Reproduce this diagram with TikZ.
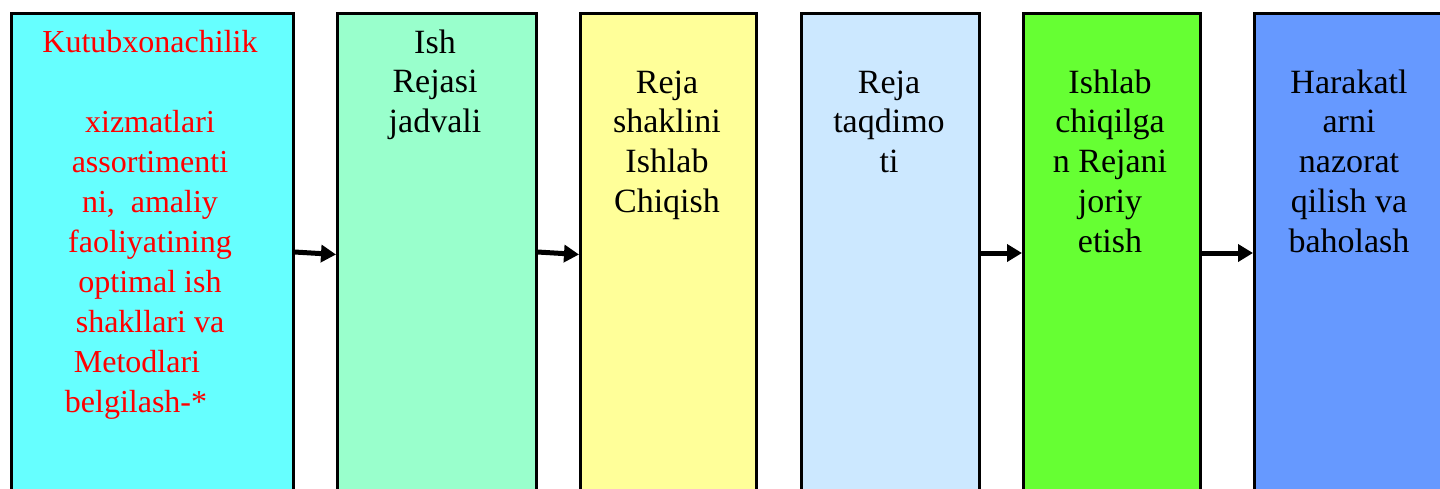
\documentclass[tikz,border=0pt]{standalone}
\usepackage{fontspec}
\setmainfont{Liberation Serif}
\usetikzlibrary{arrows.meta}
\definecolor{cA}{HTML}{66FFFF}
\definecolor{cB}{HTML}{99FFCC}
\definecolor{cC}{HTML}{FFFF99}
\definecolor{cD}{HTML}{CCE8FF}
\definecolor{cE}{HTML}{66FF33}
\definecolor{cF}{HTML}{6699FF}
\definecolor{redtxt}{HTML}{FF0000}
\tikzset{
  stepbox/.style={draw=black, line width=2.5pt, anchor=north west, inner sep=0pt, minimum height=520pt},
  txtA/.style={anchor=base, align=center, inner sep=0pt, text=redtxt, font=\fontsize{32}{40}\selectfont},
  txt/.style={anchor=base, align=center, inner sep=0pt, text=black, font=\fontsize{34}{39.8}\selectfont},
  arr/.style={line width=5pt, -{Triangle[length=15pt,width=17pt]}}
}
\begin{document}
\begin{tikzpicture}[x=1pt,y=-1pt]
\useasboundingbox (0,0) rectangle (1440,488);
\clip (0,0) rectangle (1440,488);
\node[stepbox, fill=cA, minimum width=282pt] (b1) at (10,12) {};
\node[stepbox, fill=cB, minimum width=199pt] (b2) at (336,12) {};
\node[stepbox, fill=cC, minimum width=176pt] (b3) at (579,12) {};
\node[stepbox, fill=cD, minimum width=178pt] (b4) at (800,12) {};
\node[stepbox, fill=cE, minimum width=177pt] (b5) at (1022,12) {};
\node[stepbox, fill=cF, minimum width=200pt] (b6) at (1253,12) {};

% anchor=base is the baseline of the last line
\node[txtA] (t1) at (150,412.5) {Kutubxonachilik\\ \\ xizmatlari\\ assortimenti\\ ni,\ \ amaliy\\ faoliyatining\\ optimal ish\\ shakllari va\\ \hbox{Metodlari\kern26pt}\\ \hbox{belgilash-*\kern28pt}};
\node[txt] (t2) at (435,132.6) {Ish\\ Rejasi\\ jadvali};
\node[txt] (t3) at (667,212.4) {Reja\\ shaklini\\ Ishlab\\ Chiqish};
\node[txt] (t4) at (889,172.6) {Reja\\ taqdimo\\ ti};
\node[txt] (t5) at (1110,252.2) {Ishlab\\ chiqilga\\ n Rejani\\ joriy\\ etish};
\node[txt] (t6) at (1349,252.2) {Harakatl\\ arni\\ nazorat\\ qilish va\\ baholash};

\draw[arr] ([yshift=-240pt]b1.north east) -- ([yshift=-242.5pt]b2.north west);
\draw[arr] ([yshift=-240pt]b2.north east) -- ([yshift=-242.5pt]b3.north west);
\draw[arr] ([yshift=-241pt]b4.north east) -- ([yshift=-241pt]b5.north west);
\draw[arr] ([yshift=-241pt]b5.north east) -- ([yshift=-241pt]b6.north west);
\end{tikzpicture}
\end{document}
